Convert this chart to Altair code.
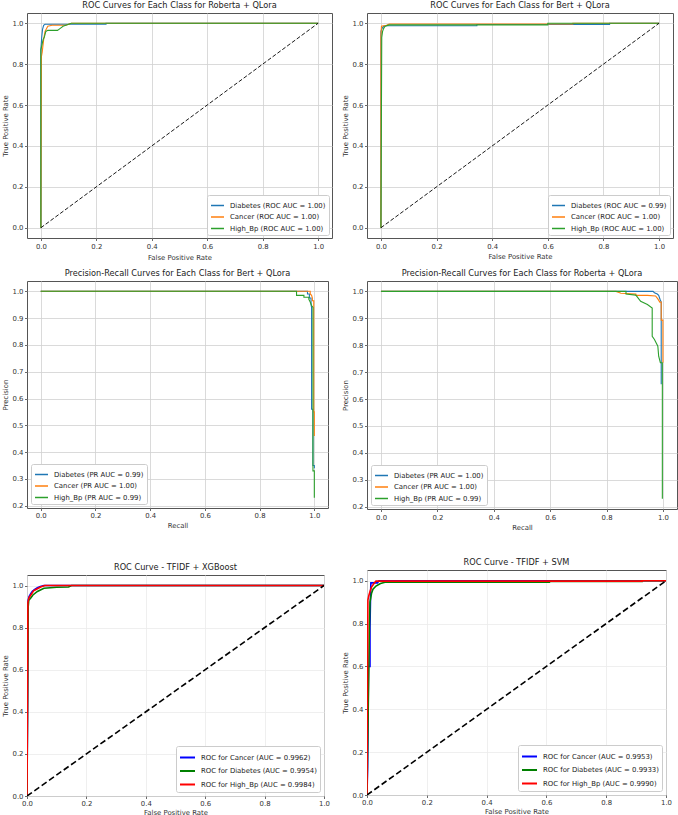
import altair as alt
import pandas as pd

FONT = "DejaVu Sans"

# ---------------- curve data ----------------
# Roberta + QLora, ROC
rob_roc_labels = ["Diabetes (ROC AUC = 1.00)", "Cancer (ROC AUC = 1.00)", "High_Bp (ROC AUC = 1.00)"]
rob_roc_diab_fpr = [0.0, 0.0, 0.003, 0.006, 0.010, 0.015, 0.235, 0.235, 1.0]
rob_roc_diab_tpr = [0.0, 0.87, 0.93, 0.97, 0.99, 0.995, 0.995, 1.0, 1.0]
rob_roc_canc_fpr = [0.0, 0.002, 0.005, 0.010, 0.015, 0.025, 0.040, 0.090, 0.100, 0.110, 1.0]
rob_roc_canc_tpr = [0.0, 0.836, 0.86, 0.92, 0.96, 0.985, 0.99, 0.99, 0.995, 1.0, 1.0]
rob_roc_hbp_fpr = [0.0, 0.0, 0.005, 0.008, 0.012, 0.018, 0.025, 0.060, 0.070, 0.080, 0.090, 0.110, 1.0]
rob_roc_hbp_tpr = [0.0, 0.87, 0.90, 0.92, 0.93, 0.96, 0.965, 0.965, 0.975, 0.985, 0.99, 1.0, 1.0]

# Bert + QLora, ROC
bert_roc_labels = ["Diabetes (ROC AUC = 0.99)", "Cancer (ROC AUC = 1.00)", "High_Bp (ROC AUC = 1.00)"]
bert_roc_diab_fpr = [0.0, 0.0, 0.004, 0.010, 0.020, 0.345, 0.345, 0.822, 0.822, 1.0]
bert_roc_diab_tpr = [0.0, 0.96, 0.975, 0.985, 0.988, 0.988, 0.994, 0.994, 1.0, 1.0]
bert_roc_canc_fpr = [0.0, 0.0, 0.002, 0.020, 0.030, 0.690, 0.690, 1.0]
bert_roc_canc_tpr = [0.0, 0.94, 0.985, 0.99, 0.996, 0.996, 1.0, 1.0]
bert_roc_hbp_fpr = [0.0, 0.003, 0.006, 0.010, 0.015, 0.030, 0.600, 0.600, 1.0]
bert_roc_hbp_tpr = [0.0, 0.93, 0.96, 0.975, 0.985, 0.992, 0.992, 1.0, 1.0]

# Bert + QLora, precision-recall
bert_pr_labels = ["Diabetes (PR AUC = 0.99)", "Cancer (PR AUC = 1.00)", "High_Bp (PR AUC = 0.99)"]
bert_pr_diab_rec = [0.0, 0.975, 0.975, 0.982, 0.982, 0.988, 0.988, 0.990, 0.990, 0.995, 0.995, 1.0, 1.0]
bert_pr_diab_prec = [1.0, 1.0, 0.99, 0.99, 0.975, 0.975, 0.95, 0.94, 0.56, 0.56, 0.35, 0.35, 0.34]
bert_pr_canc_rec = [0.0, 0.985, 0.985, 0.990, 0.993, 0.993, 0.998, 0.998, 1.0, 1.0]
bert_pr_canc_prec = [1.0, 1.0, 0.99, 0.985, 0.975, 0.965, 0.965, 0.55, 0.55, 0.46]
bert_pr_hbp_rec = [0.0, 0.935, 0.935, 0.962, 0.962, 0.980, 0.980, 0.985, 0.990, 0.995, 0.995, 1.0, 1.0]
bert_pr_hbp_prec = [1.0, 1.0, 0.985, 0.985, 0.978, 0.978, 0.97, 0.96, 0.947, 0.94, 0.33, 0.33, 0.23]

# Roberta + QLora, precision-recall
rob_pr_labels = ["Diabetes (PR AUC = 1.00)", "Cancer (PR AUC = 1.00)", "High_Bp (PR AUC = 0.99)"]
rob_pr_diab_rec = [0.0, 0.965, 0.970, 0.980, 0.985, 0.990, 0.994, 0.994]
rob_pr_diab_prec = [1.0, 1.0, 0.995, 0.99, 0.985, 0.97, 0.96, 0.655]
rob_pr_canc_rec = [0.0, 0.834, 0.851, 0.904, 0.904, 0.945, 0.974, 0.982, 0.989, 0.994, 0.994, 1.0, 1.0]
rob_pr_canc_prec = [1.0, 1.0, 0.993, 0.99, 0.985, 0.985, 0.983, 0.972, 0.96, 0.96, 0.893, 0.893, 0.735]
rob_pr_hbp_rec = [0.0, 0.869, 0.869, 0.904, 0.921, 0.945, 0.962, 0.962, 0.970, 0.982, 0.985, 0.991, 0.998, 0.998]
rob_pr_hbp_prec = [1.0, 1.0, 0.99, 0.986, 0.963, 0.951, 0.938, 0.833, 0.821, 0.796, 0.759, 0.735, 0.735, 0.23]

# TFIDF + XGBoost, ROC
xgb_labels = ["ROC for Cancer (AUC = 0.9962)", "ROC for Diabetes (AUC = 0.9954)", "ROC for High_Bp (AUC = 0.9984)"]
xgb_canc_fpr = [0.0, 0.002, 0.003, 0.004, 0.007, 0.012, 0.018, 0.025, 0.035, 0.045, 0.057, 1.0]
xgb_canc_tpr = [0.0, 0.47, 0.85, 0.93, 0.948, 0.96, 0.972, 0.98, 0.99, 0.995, 1.0, 1.0]
xgb_diab_fpr = [0.0, 0.004, 0.006, 0.012, 0.020, 0.035, 0.057, 0.100, 0.140, 0.150, 1.0]
xgb_diab_tpr = [0.0, 0.90, 0.93, 0.94, 0.955, 0.972, 0.987, 0.992, 0.993, 1.0, 1.0]
xgb_hbp_fpr = [0.0, 0.003, 0.007, 0.015, 0.022, 0.035, 0.046, 0.060, 1.0]
xgb_hbp_tpr = [0.0, 0.92, 0.943, 0.96, 0.975, 0.985, 0.993, 1.0, 1.0]

# TFIDF + SVM, ROC
svm_labels = ["ROC for Cancer (AUC = 0.9953)", "ROC for Diabetes (AUC = 0.9933)", "ROC for High_Bp (AUC = 0.9990)"]
svm_canc_fpr = [0.0, 0.002, 0.003, 0.005, 0.010, 0.010, 0.012, 0.013, 0.035, 0.040, 1.0]
svm_canc_tpr = [0.0, 0.13, 0.30, 0.60, 0.60, 0.78, 0.94, 0.99, 0.99, 1.0, 1.0]
svm_diab_fpr = [0.0, 0.008, 0.010, 0.015, 0.020, 0.030, 0.045, 0.060, 0.610, 0.610, 0.920, 0.920, 1.0]
svm_diab_tpr = [0.0, 0.78, 0.90, 0.94, 0.96, 0.975, 0.987, 0.993, 0.993, 0.997, 0.997, 1.0, 1.0]
svm_hbp_fpr = [0.0, 0.003, 0.006, 0.010, 0.015, 0.020, 0.025, 0.030, 0.920, 0.920, 1.0]
svm_hbp_tpr = [0.0, 0.91, 0.93, 0.95, 0.97, 0.98, 0.99, 0.998, 0.998, 1.0, 1.0]

# chance line
diag_x = [0.0, 1.0]
diag_y = [0.0, 1.0]

TAB = ["#1f77b4", "#ff7f0e", "#2ca02c"]
BGR = ["#0000ff", "#008000", "#ff0000"]
UNIT_TICKS = [0.0, 0.2, 0.4, 0.6, 0.8, 1.0]
PREC_TICKS = [0.2, 0.3, 0.4, 0.5, 0.6, 0.7, 0.8, 0.9, 1.0]


def curve_table(labels, xs_list, ys_list):
    rows = []
    for lab, xs, ys in zip(labels, xs_list, ys_list):
        for i, (x, y) in enumerate(zip(xs, ys)):
            rows.append({"series": lab, "x": x, "y": y, "i": i})
    return pd.DataFrame(rows)


def panel(title, labels, xs_list, ys_list, colors, xdom, ydom, yticks,
          xtitle, ytitle, width, height, line_w, grid_color,
          diag_w=None, dash=None, legend_sym=169, legend_sw=1.5,
          legend_offset=3, legend_orient="bottom-right",
          xlab_pad=3.0, xtitle_y=18.0):
    df = curve_table(labels, xs_list, ys_list)
    xaxis = alt.Axis(values=UNIT_TICKS, format=".1f", title=xtitle,
                     gridColor=grid_color, labelPadding=xlab_pad,
                     titleY=xtitle_y, titleBaseline="middle",
                     labelFlush=False, labelOverlap=False)
    yaxis = alt.Axis(values=yticks, format=".1f", title=ytitle,
                     gridColor=grid_color, labelPadding=1.5,
                     titleX=-22, titleBaseline="middle",
                     labelFlush=False, labelOverlap=False)
    xscale = alt.Scale(domain=xdom, nice=False, zero=False)
    yscale = alt.Scale(domain=ydom, nice=False, zero=False)
    legend = alt.Legend(title=None, orient=legend_orient, offset=legend_offset,
                        padding=3, rowPadding=0.5, symbolType="stroke",
                        symbolSize=legend_sym, symbolStrokeWidth=legend_sw,
                        labelOffset=5, labelFontSize=6.9, labelFont=FONT,
                        labelColor="#222222", labelLimit=400,
                        strokeColor="#cccccc", fillColor="#ffffff",
                        cornerRadius=2)
    curves = alt.Chart(df).mark_line(strokeWidth=line_w, clip=True).encode(
        x=alt.X("x:Q", scale=xscale, axis=xaxis),
        y=alt.Y("y:Q", scale=yscale, axis=yaxis),
        color=alt.Color("series:N", scale=alt.Scale(domain=labels, range=colors),
                        legend=legend),
        order=alt.Order("i:Q"),
    )
    layers = [curves]
    if diag_w is not None:
        diag = alt.Chart(pd.DataFrame({"x": diag_x, "y": diag_y})).mark_line(
            color="black", strokeWidth=diag_w, strokeDash=dash, clip=True
        ).encode(
            x=alt.X("x:Q", scale=xscale, axis=xaxis),
            y=alt.Y("y:Q", scale=yscale, axis=yaxis),
        )
        layers.append(diag)
    return alt.layer(*layers).properties(
        width=width, height=height,
        title=alt.TitleParams(title, fontSize=8.2, font=FONT, fontWeight="normal",
                              color="#222222", offset=3, anchor="middle"),
    )


PAD = [-0.05, 1.05]
PREC_DOM = [0.1915, 1.0385]
TOP_GRID = "#d0d0d0"
LOW_GRID = "#ebebeb"

p1 = panel("ROC Curves for Each Class for Roberta + QLora", rob_roc_labels,
           [rob_roc_diab_fpr, rob_roc_canc_fpr, rob_roc_hbp_fpr],
           [rob_roc_diab_tpr, rob_roc_canc_tpr, rob_roc_hbp_tpr],
           TAB, PAD, PAD, UNIT_TICKS, "False Positive Rate", "True Positive Rate",
           305, 225, 1.1, TOP_GRID, diag_w=0.9, dash=[4, 2], xtitle_y=19)
p2 = panel("ROC Curves for Each Class for Bert + QLora", bert_roc_labels,
           [bert_roc_diab_fpr, bert_roc_canc_fpr, bert_roc_hbp_fpr],
           [bert_roc_diab_tpr, bert_roc_canc_tpr, bert_roc_hbp_tpr],
           TAB, PAD, PAD, UNIT_TICKS, "False Positive Rate", "True Positive Rate",
           306, 225, 1.1, TOP_GRID, diag_w=0.9, dash=[4, 2], xtitle_y=18)
p3 = panel("Precision-Recall Curves for Each Class for Bert + QLora", bert_pr_labels,
           [bert_pr_diab_rec, bert_pr_canc_rec, bert_pr_hbp_rec],
           [bert_pr_diab_prec, bert_pr_canc_prec, bert_pr_hbp_prec],
           TAB, PAD, PREC_DOM, PREC_TICKS, "Recall", "Precision",
           301, 227, 1.1, TOP_GRID, legend_orient="bottom-left", legend_offset=4,
           xlab_pad=2, xtitle_y=17)
p4 = panel("Precision-Recall Curves for Each Class for Roberta + QLora", rob_pr_labels,
           [rob_pr_diab_rec, rob_pr_canc_rec, rob_pr_hbp_rec],
           [rob_pr_diab_prec, rob_pr_canc_prec, rob_pr_hbp_prec],
           TAB, PAD, PREC_DOM, PREC_TICKS, "Recall", "Precision",
           310, 228, 1.1, TOP_GRID, legend_orient="bottom-left", legend_offset=4,
           xlab_pad=2.5, xtitle_y=18)
p5 = panel("ROC Curve - TFIDF + XGBoost", xgb_labels,
           [xgb_canc_fpr, xgb_diab_fpr, xgb_hbp_fpr],
           [xgb_canc_tpr, xgb_diab_tpr, xgb_hbp_tpr],
           BGR, [0.0, 1.0], [0.0, 1.05], UNIT_TICKS, "False Positive Rate", "True Positive Rate",
           297, 221, 1.6, LOW_GRID, diag_w=1.6, dash=[6, 3], legend_sym=225,
           legend_sw=2.0, legend_offset=4, xlab_pad=1.5, xtitle_y=16)
p6 = panel("ROC Curve - TFIDF + SVM", svm_labels,
           [svm_canc_fpr, svm_diab_fpr, svm_hbp_fpr],
           [svm_canc_tpr, svm_diab_tpr, svm_hbp_tpr],
           BGR, [0.0, 1.0], [0.0, 1.05], UNIT_TICKS, "False Positive Rate", "True Positive Rate",
           299, 225, 1.6, LOW_GRID, diag_w=1.6, dash=[6, 3], legend_sym=225,
           legend_sw=2.0, legend_offset=4, xlab_pad=2, xtitle_y=16)

left = alt.vconcat(
    alt.vconcat(p1, p3, spacing=7).resolve_scale(color="independent"),
    p5, spacing=33,
).resolve_scale(color="independent")
right = alt.vconcat(
    alt.vconcat(p2, p4, spacing=8).resolve_scale(color="independent"),
    p6, spacing=26,
).resolve_scale(color="independent")

chart = alt.hconcat(left, right, spacing=7).resolve_scale(
    color="independent"
).properties(
    padding={"left": 0, "top": 0, "right": 0, "bottom": 0},
    background="#ffffff",
).configure_view(
    stroke="#555555", strokeWidth=1
).configure_axis(
    labelFont=FONT, labelFontSize=6.9, labelColor="#333333",
    titleFont=FONT, titleFontSize=6.9, titleFontWeight="normal", titleColor="#333333",
    tickSize=2.5, tickWidth=0.8, tickColor="#444444",
    domain=False, grid=True, gridWidth=0.8,
)

chart.save("out.html", embed_options={"renderer": "svg", "actions": False})
